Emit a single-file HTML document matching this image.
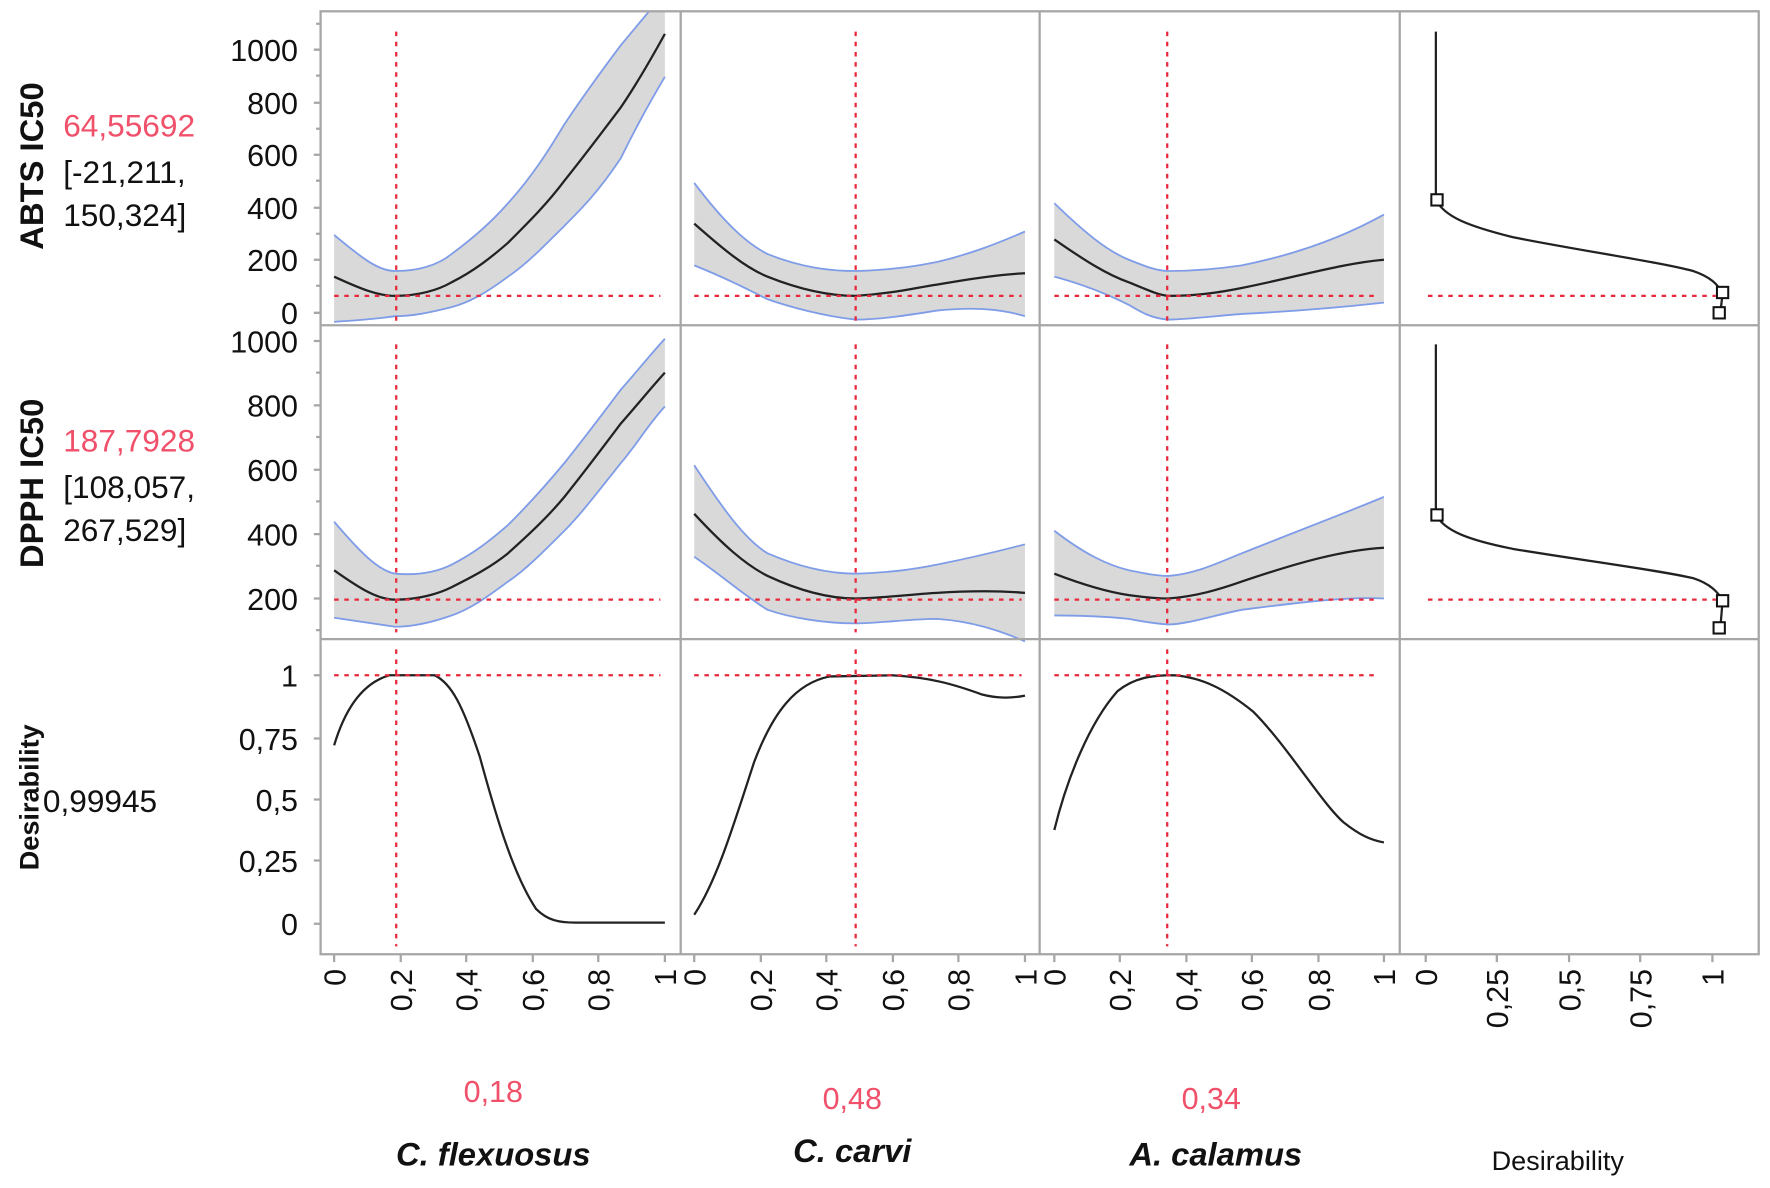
<!DOCTYPE html>
<html><head><meta charset="utf-8"><style>
html,body{margin:0;padding:0;background:#fff;}
svg{display:block;}
text{font-family:"Liberation Sans",sans-serif;}
</style></head><body>
<svg width="1770" height="1188" viewBox="0 0 1568 1052" preserveAspectRatio="none" xmlns="http://www.w3.org/2000/svg">
<rect width="1568" height="1052" fill="#fff"/>
<g fill="#d9d9d9" stroke="none">
<path d="M296,208 C320,228 335,240 350,240 C375,240 390,233 400,225 C420,210 435,197 450,180 C470,158 485,135 500,110 C520,80 535,60 550,40 L575,10 L589,10 L589,68 C570,100 560,120 550,140 C530,170 515,185 500,200 C480,220 465,235 450,245 C430,260 415,268 400,272 C380,277 365,280 350,280 C330,283 310,284 296,285 Z"/>
<path d="M615,162 C640,195 660,215 680,225 C710,237 735,240 758,240 C790,239 810,236 830,232 C860,225 885,215 908,205 L908,280 C885,273 860,272 830,275 C805,279 780,283 758,283 C730,280 700,272 680,265 C660,255 640,245 615,235 Z"/>
<path d="M934,180 C960,205 980,222 1000,230 C1015,236 1025,240 1035,240 C1060,240 1080,238 1100,235 C1150,225 1190,210 1226,190 L1226,268 C1190,272 1140,276 1100,278 C1075,280 1050,283 1035,283 C1020,282 1010,276 1000,270 C980,260 960,252 934,245 Z"/>
<path d="M296,462 C320,490 335,505 350,508 C375,510 390,505 400,500 C420,490 435,478 450,465 C470,445 485,428 500,410 C520,385 535,365 550,345 C565,328 578,312 589,300 L589,360 C575,375 563,395 550,410 C530,435 515,455 500,470 C480,490 465,505 450,515 C430,530 415,540 400,545 C380,552 365,555 350,555 C330,552 310,549 296,547 Z"/>
<path d="M615,412 C640,450 660,478 680,490 C710,503 735,508 758,508 C790,507 810,504 830,500 C860,494 885,488 908,482 L908,568 C885,558 860,550 830,548 C805,548 780,552 758,552 C730,552 700,547 680,540 C660,528 640,510 615,493 Z"/>
<path d="M934,470 C960,490 980,500 1000,505 C1015,508 1025,510 1035,510 C1060,508 1080,498 1100,490 C1150,470 1190,455 1226,440 L1226,530 C1190,528 1140,535 1100,540 C1075,545 1050,553 1035,553 C1020,552 1010,550 1000,548 C980,546 960,545 934,545 Z"/>
</g>
<g fill="none" stroke="#7f9ce8" stroke-width="1.6">
<path d="M296,208 C320,228 335,240 350,240 C375,240 390,233 400,225 C420,210 435,197 450,180 C470,158 485,135 500,110 C520,80 535,60 550,40 L575,10"/>
<path d="M589,68 C570,100 560,120 550,140 C530,170 515,185 500,200 C480,220 465,235 450,245 C430,260 415,268 400,272 C380,277 365,280 350,280 C330,283 310,284 296,285"/>
<path d="M615,162 C640,195 660,215 680,225 C710,237 735,240 758,240 C790,239 810,236 830,232 C860,225 885,215 908,205"/>
<path d="M908,280 C885,273 860,272 830,275 C805,279 780,283 758,283 C730,280 700,272 680,265 C660,255 640,245 615,235"/>
<path d="M934,180 C960,205 980,222 1000,230 C1015,236 1025,240 1035,240 C1060,240 1080,238 1100,235 C1150,225 1190,210 1226,190"/>
<path d="M1226,268 C1190,272 1140,276 1100,278 C1075,280 1050,283 1035,283 C1020,282 1010,276 1000,270 C980,260 960,252 934,245"/>
<path d="M296,462 C320,490 335,505 350,508 C375,510 390,505 400,500 C420,490 435,478 450,465 C470,445 485,428 500,410 C520,385 535,365 550,345 C565,328 578,312 589,300"/>
<path d="M589,360 C575,375 563,395 550,410 C530,435 515,455 500,470 C480,490 465,505 450,515 C430,530 415,540 400,545 C380,552 365,555 350,555 C330,552 310,549 296,547"/>
<path d="M615,412 C640,450 660,478 680,490 C710,503 735,508 758,508 C790,507 810,504 830,500 C860,494 885,488 908,482"/>
<path d="M908,568 C885,558 860,550 830,548 C805,548 780,552 758,552 C730,552 700,547 680,540 C660,528 640,510 615,493"/>
<path d="M934,470 C960,490 980,500 1000,505 C1015,508 1025,510 1035,510 C1060,508 1080,498 1100,490 C1150,470 1190,455 1226,440"/>
<path d="M1226,530 C1190,528 1140,535 1100,540 C1075,545 1050,553 1035,553 C1020,552 1010,550 1000,548 C980,546 960,545 934,545"/>
</g>
<g fill="none" stroke="#222" stroke-width="2">
<path d="M296,245 C320,256 335,262 350,262 C370,262 388,257 400,250 C420,240 435,228 450,215 C470,195 485,180 500,160 C520,135 535,115 550,95 C565,73 578,50 589,30"/>
<path d="M615,198 C640,220 660,237 680,245 C710,257 735,262 758,262 C790,260 810,255 830,252 C860,247 885,243 908,242"/>
<path d="M934,212 C960,230 980,243 1000,250 C1015,256 1025,261 1035,262 C1060,262 1080,259 1100,255 C1150,245 1190,233 1226,230"/>
<path d="M296,505 C320,522 335,531 350,531 C370,531 388,526 400,520 C420,510 435,502 450,490 C470,472 485,458 500,440 C520,415 535,395 550,375 C565,358 578,342 589,330"/>
<path d="M615,455 C640,482 660,500 680,510 C710,524 735,530 758,530 C790,529 810,526 830,525 C860,523 885,523 908,525"/>
<path d="M934,508 C960,518 980,524 1000,527 C1015,529 1025,530 1035,530 C1060,528 1080,522 1100,515 C1150,498 1190,487 1226,485"/>
<path d="M296,660 C305,630 320,605 345,598 L385,598 C400,605 410,625 425,670 C440,725 455,775 475,805 C485,815 495,817 510,817 L589,817"/>
<path d="M615,810 C635,780 650,730 668,675 C685,630 705,605 735,599 L790,598 C825,600 845,606 870,615 C885,619 898,618 908,616"/>
<path d="M934,735 C945,690 965,640 990,612 C1005,600 1020,598 1040,598 C1065,600 1085,610 1110,630 C1140,660 1170,710 1190,728 C1205,740 1215,744 1226,746"/>
<path d="M1272,28 L1272,177 C1280,192 1300,200 1340,210 C1400,222 1470,232 1500,240 C1515,245 1522,252 1526,260 L1524,277"/>
<path d="M1272,305 L1272,456 C1280,470 1300,478 1340,486 C1400,496 1470,505 1500,512 C1515,517 1522,524 1526,532 L1524,556"/>
</g>
<g fill="#fff" stroke="#111" stroke-width="1.8">
<rect x="1268" y="172" width="10" height="10"/><rect x="1521" y="254" width="10" height="10"/><rect x="1518" y="272" width="10" height="10"/>
<rect x="1268" y="451" width="10" height="10"/><rect x="1521" y="527" width="10" height="10"/><rect x="1518" y="551" width="10" height="10"/>
</g>
<g stroke="#e8283c" stroke-width="2" stroke-dasharray="4,5" fill="none">
<path d="M296,262H585 M615,262H905 M934,262H1222 M1265,262H1520"/>
<path d="M296,531H585 M615,531H905 M934,531H1222 M1265,531H1520"/>
<path d="M296,598H585 M615,598H905 M934,598H1222"/>
<path d="M351,28V285 M758,28V285 M1034,28V285"/>
<path d="M351,305V560 M758,305V560 M1034,305V560"/>
<path d="M351,575V838 M758,575V838 M1034,575V838"/>
</g>
<g stroke="#a6a6a6" stroke-width="2" fill="none">
<rect x="284" y="10" width="1274" height="835"/>
<path d="M603,10V845 M921,10V845 M1240,10V845 M284,288H1558 M284,566H1558"/>
<path d="M278,44H284 M278,91H284 M278,137H284 M278,184H284 M278,230H284 M278,277H284"/>
<path d="M280,21H284 M280,67H284 M280,114H284 M280,160H284 M280,207H284 M280,253H284"/>
<path d="M278,302H284 M278,359H284 M278,416H284 M278,473H284 M278,530H284"/>
<path d="M280,330H284 M280,387H284 M280,444H284 M280,501H284 M280,558H284"/>
<path d="M278,598H284 M278,654H284 M278,708H284 M278,762H284 M278,818H284"/>
<path d="M296,845V852 M355,845V852 M413,845V852 M472,845V852 M530,845V852 M589,845V852"/>
<path d="M615,845V852 M674,845V852 M732,845V852 M791,845V852 M849,845V852 M908,845V852"/>
<path d="M934,845V852 M992,845V852 M1051,845V852 M1109,845V852 M1168,845V852 M1226,845V852"/>
<path d="M1263,845V852 M1326,845V852 M1390,845V852 M1453,845V852 M1517,845V852"/>
</g>
<g font-size="27" fill="#111" text-anchor="end">
<text x="264" y="54">1000</text><text x="264" y="101">800</text><text x="264" y="147">600</text><text x="264" y="194">400</text><text x="264" y="240">200</text><text x="264" y="287">0</text>
<text x="264" y="312">1000</text><text x="264" y="369">800</text><text x="264" y="426">600</text><text x="264" y="483">400</text><text x="264" y="540">200</text>
<text x="264" y="608">1</text><text x="264" y="664">0,75</text><text x="264" y="718">0,5</text><text x="264" y="772">0,25</text><text x="264" y="828">0</text>
</g>
<g font-size="27" fill="#111" text-anchor="end">
<text transform="translate(306,858) rotate(-90)">0</text><text transform="translate(365,858) rotate(-90)">0,2</text><text transform="translate(423,858) rotate(-90)">0,4</text><text transform="translate(482,858) rotate(-90)">0,6</text><text transform="translate(540,858) rotate(-90)">0,8</text><text transform="translate(599,858) rotate(-90)">1</text>
<text transform="translate(625,858) rotate(-90)">0</text><text transform="translate(684,858) rotate(-90)">0,2</text><text transform="translate(742,858) rotate(-90)">0,4</text><text transform="translate(801,858) rotate(-90)">0,6</text><text transform="translate(859,858) rotate(-90)">0,8</text><text transform="translate(918,858) rotate(-90)">1</text>
<text transform="translate(944,858) rotate(-90)">0</text><text transform="translate(1002,858) rotate(-90)">0,2</text><text transform="translate(1061,858) rotate(-90)">0,4</text><text transform="translate(1119,858) rotate(-90)">0,6</text><text transform="translate(1178,858) rotate(-90)">0,8</text><text transform="translate(1236,858) rotate(-90)">1</text>
<text transform="translate(1273,858) rotate(-90)">0</text><text transform="translate(1336,858) rotate(-90)">0,25</text><text transform="translate(1400,858) rotate(-90)">0,5</text><text transform="translate(1463,858) rotate(-90)">0,75</text><text transform="translate(1527,858) rotate(-90)">1</text>
</g>
<g font-weight="bold" fill="#111" text-anchor="middle">
<text transform="translate(38,147) rotate(-90)" font-size="29">ABTS IC50</text>
<text transform="translate(38,428) rotate(-90)" font-size="29">DPPH IC50</text>
<text transform="translate(34,706) rotate(-90)" font-size="24">Desirability</text>
</g>
<g font-size="28">
<text x="56" y="121" fill="#f0506a">64,55692</text>
<text x="56" y="162" fill="#111">[-21,211,</text>
<text x="56" y="200" fill="#111">150,324]</text>
<text x="56" y="400" fill="#f0506a">187,7928</text>
<text x="56" y="441" fill="#111">[108,057,</text>
<text x="56" y="479" fill="#111">267,529]</text>
<text x="38" y="719" fill="#111">0,99945</text>
</g>
<g font-size="27" fill="#f0506a" text-anchor="middle">
<text x="437" y="976">0,18</text><text x="755" y="982">0,48</text><text x="1073" y="982">0,34</text>
</g>
<g font-size="29" font-weight="bold" font-style="italic" fill="#111" text-anchor="middle">
<text x="437" y="1032">C. flexuosus</text><text x="755" y="1029">C. carvi</text><text x="1077" y="1032">A. calamus</text>
</g>
<text x="1380" y="1036" font-size="24" fill="#111" text-anchor="middle">Desirability</text>
</svg>
</body></html>
